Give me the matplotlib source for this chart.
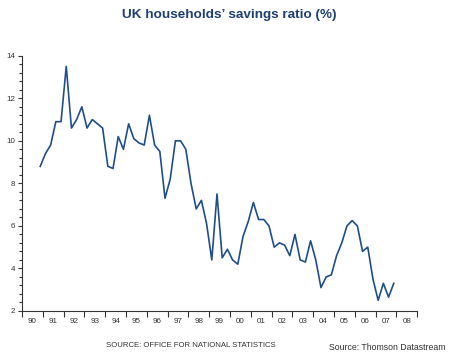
import numpy as np
import matplotlib
matplotlib.use("Agg")
import matplotlib.pyplot as plt
from matplotlib.ticker import MultipleLocator, FixedLocator, NullFormatter

plt.rcParams['font.family'] = ['Liberation Sans', 'DejaVu Sans']

# Quarterly savings ratio, 1990 Q4 to 2007 Q4
start_year = 1990.875
savings = [8.8, 9.4, 9.8, 10.9, 10.9,
           13.5, 10.6, 11.0, 11.6,
           10.6, 11.0, 10.8, 10.6,
           8.8, 8.7, 10.2, 9.6,
           10.8, 10.1, 9.9, 9.8,
           11.2, 9.8, 9.5, 7.3,
           8.2, 10.0, 10.0, 9.6,
           8.0, 6.8, 7.2, 6.1,
           4.4, 7.5, 4.5, 4.9,
           4.4, 4.2, 5.5, 6.2,
           7.1, 6.3, 6.3, 6.0,
           5.0, 5.2, 5.1, 4.6,
           5.6, 4.4, 4.3, 5.3,
           4.4, 3.1, 3.6, 3.7,
           4.6, 5.2, 6.0, 6.25,
           6.0, 4.8, 5.0, 3.5,
           2.5, 3.3, 2.65, 3.3]
year_labels = ['90', '91', '92', '93', '94', '95', '96', '97', '98', '99',
               '00', '01', '02', '03', '04', '05', '06', '07', '08']

dates = start_year + 0.25 * np.arange(len(savings))

fig = plt.figure(figsize=(4.5, 3.55), dpi=100)
ax = fig.add_axes([0.049, 0.124, 0.878, 0.719])

ax.plot(dates, savings, color='#1f4e8c', linewidth=1.2)

ax.set_xlim(1990, 2009)
ax.set_ylim(2, 14)

# y axis: labels every 2, minor ticks every 0.4
ax.yaxis.set_major_locator(MultipleLocator(2))
ax.yaxis.set_minor_locator(MultipleLocator(0.4))
ax.tick_params(axis='y', which='major', length=3, width=0.8, labelsize=5.8,
               colors='#333333', pad=2)
ax.tick_params(axis='y', which='minor', length=2, width=0.8, color='#333333')

# x axis: tick marks at year boundaries, labels centred inside each year
ax.xaxis.set_major_locator(FixedLocator(np.arange(1990, 2010)))
ax.xaxis.set_major_formatter(NullFormatter())
ax.xaxis.set_minor_locator(FixedLocator(np.arange(1990, 2009) + 0.5))
ax.set_xticklabels(year_labels, minor=True)
ax.tick_params(axis='x', which='major', length=4, width=0.8, color='#333333', direction='out')
ax.tick_params(axis='x', which='minor', length=0, labelsize=5.8, colors='#333333', pad=5)

for side in ['top', 'right']:
    ax.spines[side].set_visible(False)
for side in ['left', 'bottom']:
    ax.spines[side].set_color('#333333')
    ax.spines[side].set_linewidth(0.8)

fig.text(0.51, 0.958, "UK households\u2019 savings ratio (%)", ha='center', va='center',
         fontsize=9.7, fontweight='bold', color='#1f3f73')
fig.text(0.425, 0.028, "SOURCE: OFFICE FOR NATIONAL STATISTICS", ha='center', va='center',
         fontsize=5.6, color='#333333')
fig.text(0.86, 0.02, "Source: Thomson Datastream", ha='center', va='center',
         fontsize=6.3, color='#333333')

fig.savefig('out.png', dpi=100)
